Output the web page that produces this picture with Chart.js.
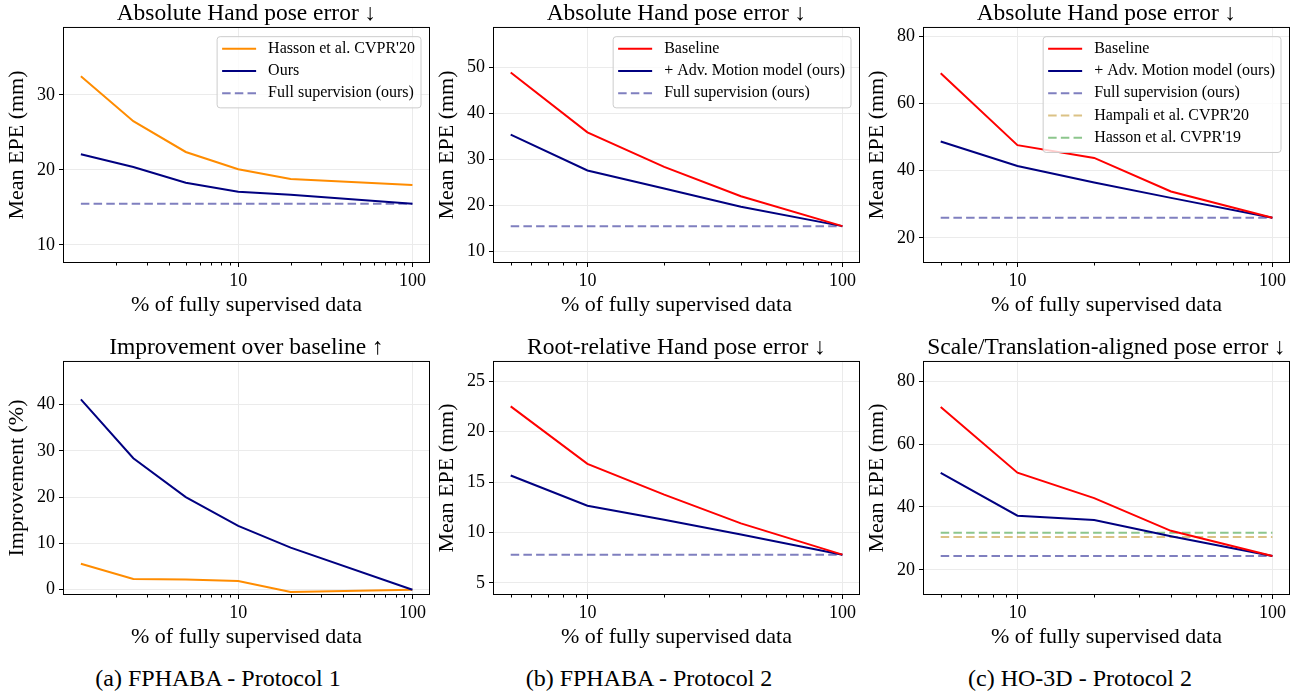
<!DOCTYPE html>
<html>
<head>
<meta charset="utf-8">
<script src="https://cdn.jsdelivr.net/npm/chart.js@4.4.1/dist/chart.umd.min.js"></script>
<style>
  body { margin: 0; background: #fff; }
  #fig { position: relative; width: 1297px; height: 691px; overflow: hidden; }
  canvas { position: absolute; }
  .cap { position: absolute; top: 665px; width: 430px; line-height: 26px; text-align: center;
         font: 24px "Liberation Serif", serif; color: #000; }
</style>
</head>
<body>
<div id="fig">
  <canvas id="aTop" width="430" height="320" style="left:0;top:0"></canvas>
  <canvas id="bTop" width="430" height="320" style="left:430px;top:0"></canvas>
  <canvas id="cTop" width="437" height="320" style="left:860px;top:0"></canvas>
  <canvas id="aBot" width="430" height="318" style="left:0;top:334px"></canvas>
  <canvas id="bBot" width="430" height="318" style="left:430px;top:334px"></canvas>
  <canvas id="cBot" width="437" height="318" style="left:860px;top:334px"></canvas>
  <div class="cap" style="left:3px">(a) FPHABA - Protocol 1</div>
  <div class="cap" style="left:434px">(b) FPHABA - Protocol 2</div>
  <div class="cap" style="left:865px">(c) HO-3D - Protocol 2</div>
</div>
<script>
// % of fully supervised data
const xFphaP1 = [1.25, 2.5, 5, 10, 20, 100];
const xFive = [5, 10, 20, 40, 100];

// (a) FPHABA protocol 1
const aHasson = [32.5, 26.5, 22.4, 20.1, 18.8, 18.0];
const aOurs = [22.1, 20.4, 18.3, 17.1, 16.7, 15.5];
const aFull = 15.5;
const aImpOurs = [41.1, 28.4, 20.0, 13.8, 9.1, 0.0];
const aImpHasson = [5.6, 2.3, 2.2, 1.9, -0.5, 0.0];

// (b) FPHABA protocol 2
const bBase = [48.9, 35.9, 28.4, 22.0, 15.5];
const bOurs = [35.4, 27.6, 23.7, 19.7, 15.5];
const bFull = 15.5;
const bRootBase = [22.5, 16.8, 13.75, 10.9, 7.8];
const bRootOurs = [15.65, 12.65, 11.25, 9.8, 7.8];
const bRootFull = 7.8;

// (c) HO-3D protocol 2
const cBase = [69.0, 47.6, 43.8, 33.8, 26.0];
const cOurs = [48.7, 41.4, 36.5, 31.9, 26.0];
const cFull = 26.0;
const cAlignBase = [71.8, 50.9, 42.8, 32.4, 24.4];
const cAlignOurs = [50.8, 37.2, 35.8, 30.7, 24.4];
const cAlignFull = 24.4;
const cHampali = 30.4;
const cHasson19 = 31.8;

const ORANGE = '#ff8c00', RED = '#ff0000', NAVY = '#000080';
const NAVY_A = 'rgba(0,0,128,0.5)', GOLD_A = 'rgba(184,134,11,0.5)', GREEN_A = 'rgba(0,128,0,0.45)';
const DASH = [8.5, 4.2];

Chart.defaults.font.family = '"Liberation Serif", serif';
Chart.defaults.color = '#000';

const pts = (xs, ys) => xs.map((x, i) => ({ x: x, y: ys[i] }));
const flat = (xs, v) => [{ x: xs[0], y: v }, { x: xs[xs.length - 1], y: v }];

function solid(label, color, xs, ys) {
  return { label: label, data: pts(xs, ys), borderColor: color, borderWidth: 2, pointRadius: 0, tension: 0 };
}
function dashed(label, color, xs, v) {
  return { label: label, data: xs ? flat(xs, v) : [], borderColor: color, borderWidth: 2,
           borderDash: DASH, pointRadius: 0, tension: 0 };
}

function logTicks(min, max) {
  const out = [];
  for (let e = -1; e <= 3; e++) {
    for (let m = 1; m <= 9; m++) {
      const v = m * Math.pow(10, e);
      if (v > min && v < max) out.push({ value: v, major: m === 1 });
    }
  }
  return out;
}

// full box around the axes + short minor ticks
const framePlugin = {
  id: 'frame',
  afterDatasetsDraw(chart) {
    const { ctx, chartArea: a } = chart;
    ctx.save();
    ctx.strokeStyle = '#000';
    ctx.lineWidth = 1;
    ctx.strokeRect(a.left - 0.5, a.top - 0.5, a.right - a.left + 1, a.bottom - a.top + 1);
    const xs = chart.scales.x;
    ctx.beginPath();
    xs.ticks.forEach(t => {
      if (t.major) return;
      const px = Math.round(xs.getPixelForValue(t.value)) + 0.5;
      ctx.moveTo(px, a.bottom);
      ctx.lineTo(px, a.bottom + 3.5);
    });
    ctx.stroke();
    ctx.restore();
  }
};

const boxLegend = {
  id: 'boxLegend',
  afterDraw(chart, args, opts) {
    if (!opts || !opts.display) return;
    const items = chart.data.datasets.filter(d => d.label);
    const { ctx, chartArea: a } = chart;
    ctx.save();
    ctx.font = '16px "Liberation Serif"';
    const textW = Math.max(...items.map(d => ctx.measureText(d.label).width));
    const rowH = 22.3;
    const w = 5 + 34 + 12 + textW + 6;
    const h = items.length * rowH + 4.3;
    const x0 = a.right - 8 - w, y0 = a.top + 8.7;
    ctx.beginPath();
    ctx.roundRect(x0, y0, w, h, 3);
    ctx.fillStyle = 'rgba(255,255,255,0.8)';
    ctx.fill();
    ctx.strokeStyle = '#cccccc';
    ctx.lineWidth = 1;
    ctx.stroke();
    items.forEach((d, i) => {
      const cy = y0 + 12 + i * rowH;
      ctx.beginPath();
      ctx.setLineDash(d.borderDash || []);
      ctx.strokeStyle = d.borderColor;
      ctx.lineWidth = d.borderWidth;
      ctx.moveTo(x0 + 5, cy);
      ctx.lineTo(x0 + 39, cy);
      ctx.stroke();
      ctx.setLineDash([]);
      ctx.fillStyle = '#000';
      ctx.textBaseline = 'middle';
      ctx.fillText(d.label, x0 + 51, cy);
    });
    ctx.restore();
  }
};

function makeChart(id, cfg) {
  return new Chart(document.getElementById(id), {
    type: 'line',
    data: { datasets: cfg.datasets },
    options: {
      responsive: false,
      animation: false,
      layout: { padding: { right: cfg.padRight, left: 0, top: 0, bottom: 0 } },
      plugins: {
        legend: { display: false },
        tooltip: { enabled: false },
        title: { display: true, text: cfg.title, fullSize: false,
                 font: { size: 23.5, weight: 'normal', lineHeight: 1.19 },
                 padding: { top: 0, bottom: 0 }, color: '#000' },
        boxLegend: { display: !!cfg.legend }
      },
      scales: {
        x: {
          type: 'logarithmic', min: cfg.xMin, max: cfg.xMax,
          afterBuildTicks: s => { s.ticks = logTicks(cfg.xMin, cfg.xMax); },
          afterFit: s => { s.height = 58; },
          ticks: { autoSkip: false, maxRotation: 0, font: { size: 18 }, padding: 3,
                   callback: v => (v === 10 || v === 100 ? String(v) : '') },
          grid: { color: c => (c.tick && c.tick.major ? '#ebebeb' : 'rgba(0,0,0,0)'),
                  tickColor: c => (c.tick && c.tick.major ? '#000' : 'rgba(0,0,0,0)'),
                  tickLength: 5 },
          border: { display: false },
          title: { display: true, text: '% of fully supervised data', font: { size: 22 },
                   padding: { top: 0, bottom: 1.8 } }
        },
        y: {
          min: cfg.yMin, max: cfg.yMax,
          afterFit: s => { s.width = 64; },
          ticks: { stepSize: cfg.yStep, includeBounds: false, font: { size: 18 }, padding: 4 },
          grid: { color: '#ebebeb', tickColor: '#000', tickLength: 5 },
          border: { display: false },
          title: { display: true, text: cfg.yTitle, font: { size: 22 }, padding: { top: 4, bottom: 0 } }
        }
      }
    },
    plugins: [framePlugin, boxLegend]
  });
}

const ERR = 'Mean EPE (mm)';

makeChart('aTop', {
  title: 'Absolute Hand pose error \u2193', yTitle: ERR, padRight: 1, legend: true,
  xMin: 1.0, xMax: 124.5, yMin: 7.73, yMax: 38.93, yStep: 10,
  datasets: [
    solid("Hasson et al. CVPR'20", ORANGE, xFphaP1, aHasson),
    solid('Ours', NAVY, xFphaP1, aOurs),
    dashed('Full supervision (ours)', NAVY_A, xFphaP1, aFull)
  ]
});

makeChart('bTop', {
  title: 'Absolute Hand pose error \u2193', yTitle: ERR, padRight: 1, legend: true,
  xMin: 4.3, xMax: 116.2, yMin: 7.7, yMax: 58.6, yStep: 10,
  datasets: [
    solid('Baseline', RED, xFive, bBase),
    solid('+ Adv. Motion model (ours)', NAVY, xFive, bOurs),
    dashed('Full supervision (ours)', NAVY_A, xFive, bFull)
  ]
});

makeChart('cTop', {
  title: 'Absolute Hand pose error \u2193', yTitle: ERR, padRight: 8, legend: true,
  xMin: 4.3, xMax: 116.2, yMin: 12.8, yMax: 82.5, yStep: 20,
  datasets: [
    solid('Baseline', RED, xFive, cBase),
    solid('+ Adv. Motion model (ours)', NAVY, xFive, cOurs),
    dashed('Full supervision (ours)', NAVY_A, xFive, cFull),
    dashed("Hampali et al. CVPR'20", GOLD_A, null, 0),
    dashed("Hasson et al. CVPR'19", GREEN_A, null, 0)
  ]
});

makeChart('aBot', {
  title: 'Improvement over baseline \u2191', yTitle: 'Improvement (%)', padRight: 1,
  xMin: 1.0, xMax: 124.5, yMin: -0.93, yMax: 49.2, yStep: 10,
  datasets: [
    solid(null, NAVY, xFphaP1, aImpOurs),
    solid(null, ORANGE, xFphaP1, aImpHasson)
  ]
});

makeChart('bBot', {
  title: 'Root-relative Hand pose error \u2193', yTitle: ERR, padRight: 1,
  xMin: 4.3, xMax: 116.2, yMin: 3.9, yMax: 26.9, yStep: 5,
  datasets: [
    solid(null, RED, xFive, bRootBase),
    solid(null, NAVY, xFive, bRootOurs),
    dashed(null, NAVY_A, xFive, bRootFull)
  ]
});

makeChart('cBot', {
  title: 'Scale/Translation-aligned pose error \u2193', yTitle: ERR, padRight: 8,
  xMin: 4.3, xMax: 116.2, yMin: 12.3, yMax: 86.1, yStep: 20,
  datasets: [
    solid(null, RED, xFive, cAlignBase),
    solid(null, NAVY, xFive, cAlignOurs),
    dashed(null, NAVY_A, xFive, cAlignFull),
    dashed(null, GOLD_A, xFive, cHampali),
    dashed(null, GREEN_A, xFive, cHasson19)
  ]
});
</script>
</body>
</html>
